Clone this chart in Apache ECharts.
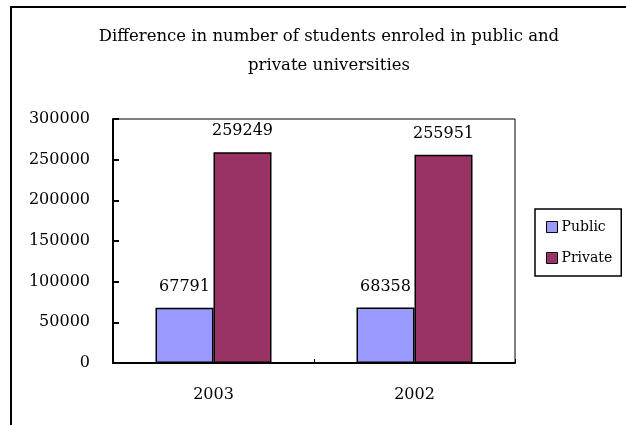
<!DOCTYPE html>
<html>
<head>
<meta charset="utf-8">
<script src="https://cdn.jsdelivr.net/npm/echarts@6/dist/echarts.min.js"></script>
<style>
  html, body { margin: 0; padding: 0; background: #fff; }
  #chart { width: 626px; height: 425px; }
</style>
</head>
<body>
<div id="chart"></div>
<script>
// Enrolment figures by year
const years = ['2003', '2002'];
const publicStudents = [67791, 68358];
const privateStudents = [259249, 255951];
const yTicks = { min: 0, max: 300000, interval: 50000 };

const serif = 'DejaVu Serif';

const chart = echarts.init(document.getElementById('chart'), null, { renderer: 'canvas' });

const barLabel = {
  show: true,
  position: 'top',
  distance: 13,
  color: '#000',
  fontFamily: serif,
  fontSize: 16
};

chart.setOption({
  animation: false,
  backgroundColor: '#fff',
  title: {
    text: 'Difference in number of students enroled in public and\nprivate universities',
    left: 324,
    top: 17,
    textAlign: 'center',
    textStyle: {
      fontFamily: serif,
      fontSize: 16.5,
      fontWeight: 'normal',
      color: '#000',
      lineHeight: 29
    }
  },
  graphic: [{
    type: 'polyline',
    silent: true,
    shape: { points: [[11, 425], [11, 7], [626, 7]] },
    style: { stroke: '#000', lineWidth: 2, fill: null }
  }],
  legend: {
    orient: 'vertical',
    left: 535,
    top: 209,
    padding: [11, 9, 11, 11],
    itemGap: 17,
    itemWidth: 11,
    itemHeight: 11,
    borderColor: '#000',
    borderWidth: 1.5,
    icon: 'rect',
    itemStyle: { borderColor: '#000', borderWidth: 1 },
    textStyle: { fontFamily: serif, fontSize: 14, color: '#000', padding: [0, 0, 0, -1] },
    data: ['Public', 'Private']
  },
  grid: {
    left: 113,
    top: 119,
    width: 402,
    height: 244,
    show: true,
    borderColor: '#000',
    borderWidth: 1,
    backgroundColor: 'transparent'
  },
  xAxis: {
    type: 'category',
    data: years,
    axisLine: { show: true, lineStyle: { color: '#000', width: 2 } },
    axisTick: { show: true, inside: true, length: 4, lineStyle: { color: '#000', width: 1 } },
    axisLabel: { margin: 24, color: '#000', fontFamily: serif, fontSize: 16 },
    splitLine: { show: false }
  },
  yAxis: {
    type: 'value',
    min: yTicks.min,
    max: yTicks.max,
    interval: yTicks.interval,
    axisLine: { show: true, lineStyle: { color: '#000', width: 2 } },
    axisTick: { show: true, inside: true, length: 6, lineStyle: { color: '#000', width: 2 } },
    axisLabel: {
      margin: 23,
      color: '#000',
      fontFamily: serif,
      fontSize: 16,
      formatter: (v) => String(v)
    },
    splitLine: { show: false }
  },
  series: [
    {
      name: 'Public',
      type: 'bar',
      data: publicStudents,
      barWidth: 58,
      barGap: '0%',
      itemStyle: { color: '#9999FF', borderColor: '#000', borderWidth: 1.5 },
      label: barLabel
    },
    {
      name: 'Private',
      type: 'bar',
      data: privateStudents,
      barWidth: 58,
      barGap: '0%',
      itemStyle: { color: '#993366', borderColor: '#000', borderWidth: 1.5 },
      label: barLabel
    }
  ]
});
</script>
</body>
</html>
